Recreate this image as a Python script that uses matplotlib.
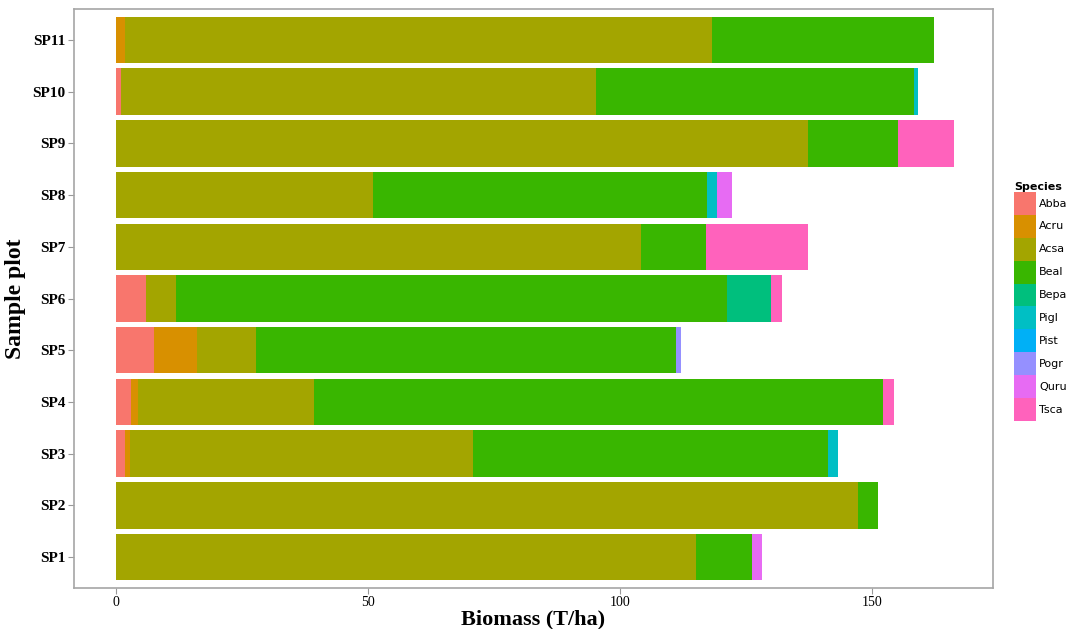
import numpy as np
import matplotlib
matplotlib.use('Agg')
import matplotlib.pyplot as plt
from matplotlib.patches import Patch

plots = ['SP1', 'SP2', 'SP3', 'SP4', 'SP5', 'SP6', 'SP7', 'SP8', 'SP9', 'SP10', 'SP11']
species = ['Abba', 'Acru', 'Acsa', 'Beal', 'Bepa', 'Pigl', 'Pist', 'Pogr', 'Quru', 'Tsca']
colors = ['#F8766D', '#D89000', '#A3A500', '#39B600', '#00BF7D',
          '#00BFC4', '#00B0F6', '#9590FF', '#E76BF3', '#FF62BC']

# biomass per species, ordered SP1..SP11
abba = [0, 0, 1.8, 3.0, 7.7, 6.0, 0, 0, 0, 1.0, 0]
acru = [0, 0, 1.0, 1.5, 8.4, 0, 0, 0, 0, 0, 1.8]
acsa = [115.1, 147.2, 68.2, 34.8, 11.8, 5.9, 104.2, 51.0, 137.3, 94.2, 116.5]
beal = [11.1, 4.0, 70.3, 113.0, 83.3, 109.3, 12.9, 66.3, 17.9, 63.1, 44.0]
bepa = [0, 0, 0, 0, 0, 8.9, 0, 0, 0, 0, 0]
pigl = [0, 0, 2.0, 0, 0, 0, 0, 1.9, 0, 0.8, 0]
pist = [0, 0, 0, 0, 0, 0, 0, 0, 0, 0, 0]
pogr = [0, 0, 0, 0, 0.9, 0, 0, 0, 0, 0, 0]
quru = [2.0, 0, 0, 0, 0, 0, 0, 3.0, 0, 0, 0]
tsca = [0, 0, 0, 2.1, 0, 2.1, 20.2, 0, 11.1, 0, 0]

data = [abba, acru, acsa, beal, bepa, pigl, pist, pogr, quru, tsca]

fig = plt.figure(figsize=(10.7, 6.29), dpi=100)
ax = fig.add_axes([74 / 1070, 41 / 629, 919 / 1070, 579 / 629])

y = np.arange(1, len(plots) + 1)
left = np.zeros(len(plots))
for vals, c in zip(data, colors):
    vals = np.array(vals)
    ax.barh(y, vals, left=left, height=0.9, color=c, linewidth=0)
    left += vals

total = left.max()
ax.set_xlim(-0.0495 * total, total * 1.0465)
ax.set_ylim(0.4, 11.6)
ax.set_yticks(y)
ax.set_yticklabels(plots, fontfamily='Liberation Serif', fontweight='bold', fontsize=11)
ax.set_xticks([0, 50, 100, 150])
ax.set_xticklabels(['0', '50', '100', '150'], fontfamily='Liberation Serif', fontsize=10)
ax.tick_params(axis='both', length=4, color='#999999', width=0.8, pad=2)
for s in ax.spines.values():
    s.set_color('#a6a6a6')
    s.set_linewidth(1.2)

ax.set_xlabel('Biomass (T/ha)', fontfamily='Liberation Serif', fontweight='bold',
              fontsize=16, labelpad=0)
ax.set_ylabel('Sample plot', fontfamily='Liberation Serif', fontweight='bold',
              fontsize=17, labelpad=5)

handles = [Patch(facecolor=c, edgecolor='none') for c in colors]
leg = fig.legend(handles, species, loc='upper left', bbox_to_anchor=(1006 / 1070, 1 - 174 / 629),
                 frameon=False, fontsize=8, title='Species', handlelength=2.0,
                 handleheight=2.8, labelspacing=0, handletextpad=0.3, borderpad=0.2)
leg.get_title().set_fontweight('bold')
leg.get_title().set_fontsize(8)
leg._legend_box.align = 'left'

fig.savefig('out.png', dpi=100)
